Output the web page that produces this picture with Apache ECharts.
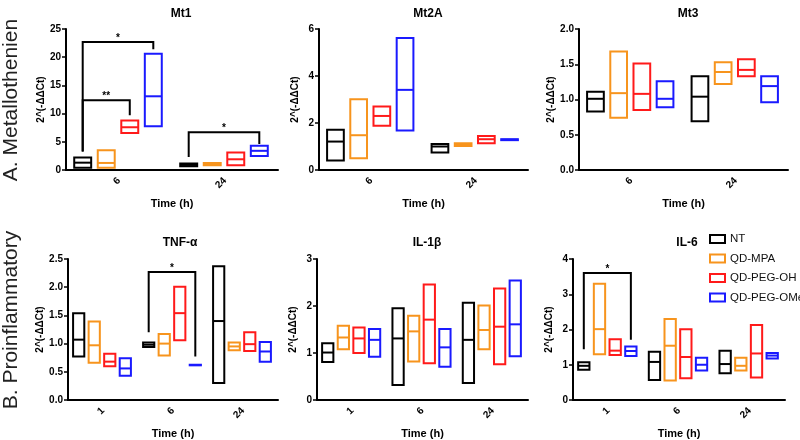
<!DOCTYPE html>
<html>
<head>
<meta charset="utf-8">
<script src="https://cdn.jsdelivr.net/npm/echarts@6/dist/echarts.min.js"></script>
<style>html,body{margin:0;padding:0;background:#fff}#c{width:800px;height:440px}</style>
</head>
<body>
<div id="c"></div>
<script>
// ---- categories / labels ----
const timeTop = ['6', '24'];
const timeBottom = ['1', '6', '24'];
const groups = ['NT', 'QD-MPA', 'QD-PEG-OH', 'QD-PEG-OMe'];
const colors = ['#000000', '#F7941D', '#FF1A1A', '#1A1AFF'];
const titles = ['Mt1', 'Mt2A', 'Mt3', 'TNF-α', 'IL-1β', 'IL-6'];

// ---- values: per group, per time point [min, mean, max] ----
const mt1 = [
  [[0.42, 1.3, 2.2], [0.65, 0.9, 1.15]],
  [[0.42, 1.25, 3.52], [0.85, 1.05, 1.25]],
  [[6.56, 7.58, 8.77], [0.84, 1.9, 3.1]],
  [[7.76, 13.07, 20.6], [2.5, 3.4, 4.3]]
];
const mt2a = [
  [[0.4, 1.21, 1.71], [0.74, 1.0, 1.11]],
  [[0.5, 1.48, 3.01], [1.02, 1.08, 1.14]],
  [[1.88, 2.3, 2.7], [1.14, 1.31, 1.45]],
  [[1.68, 3.41, 5.62], [1.27, 1.29, 1.31]]
];
const mt3 = [
  [[0.83, 1.01, 1.11], [0.69, 1.04, 1.33]],
  [[0.74, 1.09, 1.68], [1.22, 1.39, 1.53]],
  [[0.85, 1.08, 1.51], [1.33, 1.42, 1.57]],
  [[0.89, 1.01, 1.26], [0.96, 1.19, 1.33]]
];
const tnfa = [
  [[0.77, 1.07, 1.54], [0.94, 0.98, 1.02], [0.30, 1.40, 2.37]],
  [[0.66, 0.97, 1.39], [0.79, 1.0, 1.17], [0.88, 0.95, 1.02]],
  [[0.60, 0.68, 0.82], [1.06, 1.54, 2.01], [0.87, 0.99, 1.20]],
  [[0.43, 0.56, 0.74], [0.615, 0.62, 0.625], [0.68, 0.86, 1.03]]
];
const il1b = [
  [[0.81, 1.01, 1.21], [0.32, 1.31, 1.95], [0.36, 1.28, 2.07]],
  [[1.08, 1.33, 1.58], [0.82, 1.46, 1.79], [1.08, 1.49, 2.01]],
  [[1.0, 1.31, 1.54], [0.78, 1.71, 2.46], [0.76, 1.56, 2.37]],
  [[0.92, 1.28, 1.51], [0.71, 1.12, 1.51], [0.93, 1.61, 2.54]]
];
const il6 = [
  [[0.86, 0.97, 1.07], [0.57, 1.08, 1.37], [0.76, 1.02, 1.40]],
  [[1.30, 2.01, 3.30], [0.55, 1.54, 2.30], [0.84, 0.97, 1.20]],
  [[1.28, 1.40, 1.72], [0.62, 1.22, 2.01], [0.64, 1.32, 2.13]],
  [[1.25, 1.39, 1.52], [0.84, 1.0, 1.20], [1.18, 1.26, 1.33]]
];

// ---- y axis ranges [min, max, interval] ----
const yRanges = [[0, 25, 5], [0, 6, 2], [0, 2, 0.5], [0, 2.5, 0.5], [0, 3, 1], [0, 4, 1]];
const yDecimals = [0, 0, 1, 1, 0, 0];

// ---- significance brackets: [catL, groupL, catR, groupR, yTop, yLeftEnd, yRightEnd] ----
const mt1Brackets = [[0, 0, 0, 3, 22.7, 3.3, 21.4], [0, 0, 0, 2, 12.35, 3.3, 9.7], [1, 0, 1, 3, 6.7, 2.3, 4.6]];
const mt1Stars = ['*', '**', '*'];
const tnfBrackets = [[1, 0, 1, 3, 2.27, 1.2, 0.77]];
const tnfStars = ['*'];
const il6Brackets = [[0, 0, 0, 3, 3.6, 1.44, 1.71]];
const il6Stars = ['*'];

// ---- layout (pixels) ----
const grids = [
  {left: 66, top: 29, width: 212, height: 141},
  {left: 319, top: 29, width: 209, height: 141},
  {left: 579, top: 29, width: 209, height: 141},
  {left: 68, top: 259, width: 210, height: 141},
  {left: 317, top: 259, width: 211, height: 141},
  {left: 573, top: 259, width: 212, height: 141}
];
const titlePos = [[176, 3], [423, 3], [683, 3], [175, 232], [422, 232], [682, 232]];

const panelData = [mt1, mt2a, mt3, tnfa, il1b, il6];
const panelCats = [timeTop, timeTop, timeTop, timeBottom, timeBottom, timeBottom];
const panelBrackets = [[mt1Brackets, mt1Stars], null, null, [tnfBrackets, tnfStars], null, [il6Brackets, il6Stars]];

const FONT = 'Liberation Sans, Arial, sans-serif';
const SPACING = 0.222, BARW = 0.16;

function boxRenderer(g) {
  return function (params, api) {
    const cat = api.value(0);
    const catW = api.size([1, 0])[0];
    const cx = api.coord([cat, 0])[0] + (g - 1.5) * SPACING * catW - 1;
    const bw = BARW * catW;
    const yLo = api.coord([cat, api.value(1)])[1];
    const yMe = api.coord([cat, api.value(2)])[1];
    const yHi = api.coord([cat, api.value(3)])[1];
    const st = {stroke: colors[g], fill: 'none', lineWidth: 2};
    return {
      type: 'group', children: [
        {type: 'rect', shape: {x: cx - bw / 2, y: yHi, width: bw, height: yLo - yHi}, style: st},
        {type: 'line', shape: {x1: cx - bw / 2, y1: yMe, x2: cx + bw / 2, y2: yMe}, style: st}
      ]
    };
  };
}

function bracketRenderer(stars) {
  return function (params, api) {
    const catW = api.size([1, 0])[0];
    const xL = api.coord([api.value(0), 0])[0] + (api.value(1) - 1.5) * SPACING * catW - 1;
    const xR = api.coord([api.value(2), 0])[0] + (api.value(3) - 1.5) * SPACING * catW - 1;
    const yT = api.coord([api.value(0), api.value(4)])[1];
    const yL = api.coord([api.value(0), api.value(5)])[1];
    const yR = api.coord([api.value(0), api.value(6)])[1];
    return {
      type: 'group', children: [
        {type: 'polyline', shape: {points: [[xL, yL], [xL, yT], [xR, yT], [xR, yR]]},
          style: {stroke: '#000', fill: 'none', lineWidth: 2}},
        {type: 'text', style: {text: stars[params.dataIndex], x: (xL + xR) / 2, y: yT + 1,
          align: 'center', verticalAlign: 'bottom', fontSize: 10, fontWeight: 'bold', fill: '#000', fontFamily: FONT}}
      ]
    };
  };
}

const xAxes = [], yAxes = [], series = [], titleComps = [];
for (let p = 0; p < 6; p++) {
  xAxes.push({
    type: 'category', gridIndex: p, data: panelCats[p],
    name: 'Time (h)', nameLocation: 'middle', nameGap: 28,
    nameTextStyle: {fontSize: 11, fontWeight: 'bold', color: '#000', fontFamily: FONT},
    axisLine: {lineStyle: {color: '#000', width: 2}},
    axisTick: {alignWithLabel: true, length: 4, lineStyle: {color: '#000', width: 1.5}},
    axisLabel: {rotate: 45, margin: 9, fontSize: 10, fontWeight: 'bold', color: '#000', fontFamily: FONT},
    splitLine: {show: false}
  });
  const yr = yRanges[p], dec = yDecimals[p];
  yAxes.push({
    type: 'value', gridIndex: p, min: yr[0], max: yr[1], interval: yr[2],
    name: '2^(-ΔΔCt)', nameLocation: 'middle', nameGap: 19, nameRotate: 90,
    nameTextStyle: {fontSize: 10, fontWeight: 'bold', color: '#000', fontFamily: FONT},
    axisLine: {show: true, lineStyle: {color: '#000', width: 2}},
    axisTick: {show: true, length: 4, lineStyle: {color: '#000', width: 1.5}},
    axisLabel: {margin: 5, fontSize: 10, fontWeight: 'bold', color: '#000', fontFamily: FONT,
      formatter: v => v.toFixed(dec)},
    splitLine: {show: false}
  });
  titleComps.push({
    text: titles[p], left: titlePos[p][0], top: titlePos[p][1], textAlign: 'center',
    textStyle: {fontSize: 12, fontWeight: 'bold', color: '#000', fontFamily: FONT}
  });
  const pd = panelData[p];
  for (let g = 0; g < 4; g++) {
    series.push({
      type: 'custom', name: groups[g], xAxisIndex: p, yAxisIndex: p,
      itemStyle: {color: colors[g]},
      encode: {x: 0, y: [1, 2, 3]},
      data: pd[g].map((v, i) => [i, v[0], v[1], v[2]]),
      renderItem: boxRenderer(g), silent: true
    });
  }
  if (panelBrackets[p]) {
    const [br, st] = panelBrackets[p];
    series.push({
      type: 'custom', name: 'sig' + p, xAxisIndex: p, yAxisIndex: p,
      encode: {x: 0, y: 4}, data: br, renderItem: bracketRenderer(st), silent: true, z: 3
    });
  }
}

const chart = echarts.init(document.getElementById('c'), null, {renderer: 'canvas'});
chart.setOption({
  animation: false,
  backgroundColor: '#fff',
  title: titleComps,
  grid: grids,
  xAxis: xAxes,
  yAxis: yAxes,
  legend: {
    orient: 'vertical', left: 704, top: 227, itemWidth: 15, itemHeight: 8, itemGap: 5.5,
    icon: 'rect', selectedMode: false,
    textStyle: {fontSize: 11.5, color: '#111', fontFamily: FONT, lineHeight: 14},
    data: groups.map((n, i) => ({name: n, itemStyle: {color: 'rgba(0,0,0,0)', borderColor: colors[i], borderWidth: 2}}))
  },
  graphic: [
    {type: 'text', x: 11, y: 100, rotation: Math.PI / 2,
      style: {text: 'A. Metallothenien', fontSize: 21, fill: '#222', align: 'center', verticalAlign: 'middle', fontFamily: FONT}},
    {type: 'text', x: 11, y: 320, rotation: Math.PI / 2,
      style: {text: 'B. Proinflammatory', fontSize: 21, fill: '#222', align: 'center', verticalAlign: 'middle', fontFamily: FONT}}
  ],
  series: series
});
</script>
</body>
</html>
